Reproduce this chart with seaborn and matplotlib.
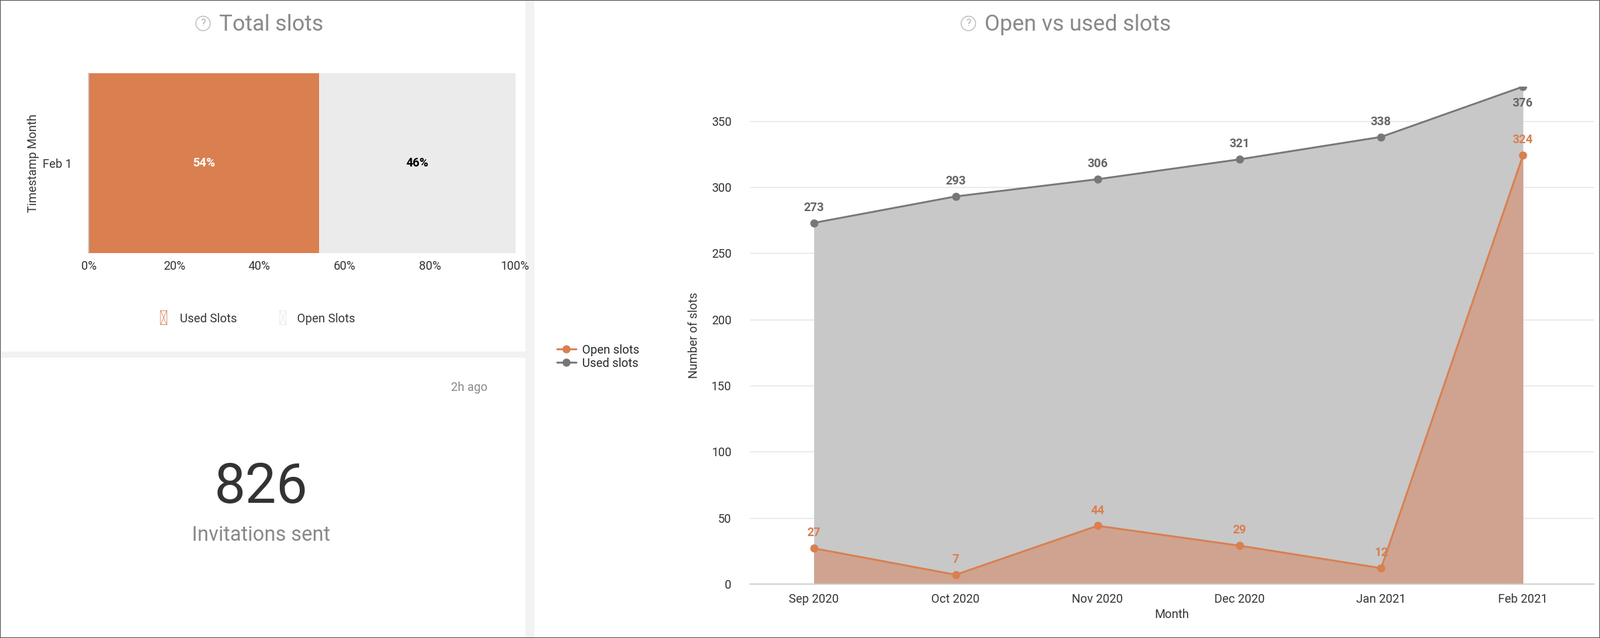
import matplotlib
matplotlib.use("Agg")
import matplotlib.pyplot as plt
import seaborn as sns
import pandas as pd
from matplotlib.patches import Rectangle

months = ["Sep 2020", "Oct 2020", "Nov 2020", "Dec 2020", "Jan 2021", "Feb 2021"]
open_slots = [27, 7, 44, 29, 12, 324]
used_slots = [273, 293, 306, 321, 338, 376]
bar_category = ["Feb 1"]
used_pct = [54]
open_pct = [46]
invitations = 826

ORANGE = "#d97f50"
GREY = "#777777"
sns.set_theme(style="white", font="Roboto")
W, H = 1568, 626
fig = plt.figure(figsize=(24.02, 9.58), dpi=100)
fig.patch.set_facecolor("white")

def fx(x): return x / W
def fy(y): return 1 - y / H

# card separators
fig.add_artist(Rectangle((fx(515), 0), fx(8), 1, transform=fig.transFigure, color="#f2f2f2", zorder=0))
fig.add_artist(Rectangle((0, fy(350)), fx(515), fx(0) + 5 / H, transform=fig.transFigure, color="#f2f2f2", zorder=0))
fig.add_artist(Rectangle((0, 0), 1, 1, transform=fig.transFigure, fill=False, ec="#555555", lw=1.5))

def title(x, y, s):
    fig.text(fx(x), fy(y), s, fontsize=24, color="#888888", ha="left", va="center")
    fig.text(fx(x - 16), fy(y - 1), "?", fontsize=11, color="#aaaaaa", ha="center", va="center",
             bbox=dict(boxstyle="circle,pad=0.25", fc="white", ec="#bbbbbb", lw=1))

title(215, 24, "Total slots")
title(965, 24, "Open vs used slots")

# --- stacked 100% bar ---
axb = fig.add_axes([fx(87), fy(248), fx(505 - 87), (248 - 72) / H])
dfb = pd.DataFrame({"cat": bar_category, "used": used_pct, "open": open_pct})
dfb["total"] = dfb["used"] + dfb["open"]
sns.barplot(data=dfb, x="total", y="cat", color="#ebebeb", width=1.0, ax=axb, orient="h")
sns.barplot(data=dfb, x="used", y="cat", color=ORANGE, width=1.0, ax=axb, orient="h", saturation=1)
for p in axb.patches:
    p.set_edgecolor("none")
axb.set_xlim(0, 100)
axb.set_ylim(0.5, -0.5)
axb.text(used_pct[0] / 2, 0, f"{used_pct[0]}%", color="white", fontsize=13, fontweight="bold", ha="center", va="center")
axb.text(used_pct[0] + open_pct[0] / 2, 0, f"{open_pct[0]}%", color="black", fontsize=13, fontweight="bold", ha="center", va="center")
axb.set_xticks([0, 20, 40, 60, 80, 100])
axb.set_xticklabels(["0%", "20%", "40%", "60%", "80%", "100%"], fontsize=13, color="#333333")
axb.set_ylabel("Timestamp Month", fontsize=13, color="#333333")
axb.set_xlabel("")
axb.tick_params(axis="y", labelsize=13, colors="#333333", length=0, pad=18)
axb.tick_params(axis="x", length=0, pad=8)
for s in ["top", "right", "bottom"]:
    axb.spines[s].set_visible(False)
axb.spines["left"].set_color("#cccccc")
axb.grid(axis="x", color="#e6e6e6")
axb.set_axisbelow(True)
# legend
fig.text(fx(160), fy(313), "●", color=ORANGE, fontsize=22, ha="center", va="center")
fig.text(fx(176), fy(313), "Used Slots", color="#333333", fontsize=13, va="center")
fig.text(fx(277), fy(313), "●", color="#e6e6e6", fontsize=22, ha="center", va="center")
fig.text(fx(291), fy(313), "Open Slots", color="#333333", fontsize=13, va="center")

# KPI
fig.text(fx(478), fy(380), "2h ago", color="#888888", fontsize=13, ha="right", va="center")
fig.text(fx(256), fy(478), f"{invitations}", color="#333333", fontsize=60, ha="center", va="center")
fig.text(fx(256), fy(525), "Invitations sent", color="#888888", fontsize=22, ha="center", va="center")

# --- line/area chart ---
ax = fig.add_axes([fx(735), fy(573), fx(1562 - 735), (573 - 85) / H])
x = list(range(len(months)))
df = pd.DataFrame({"Month": months, "x": x, "Open slots": open_slots, "Used slots": used_slots})
ax.fill_between(x, 0, used_slots, color="#c8c8c8", lw=0)
ax.fill_between(x, 0, open_slots, color="#cfa38f", lw=0)
sns.lineplot(data=df, x="x", y="Open slots", color=ORANGE, marker="o", markersize=8, mec=ORANGE, lw=2, ax=ax, label="Open slots")
sns.lineplot(data=df, x="x", y="Used slots", color=GREY, marker="o", markersize=8, mec=GREY, lw=2, ax=ax, label="Used slots")
for xi, v in zip(x, open_slots):
    ax.text(xi, v + 7, str(v), color=ORANGE, fontsize=13, fontweight="bold", ha="center", va="bottom")
for i, (xi, v) in enumerate(zip(x, used_slots)):
    if i == len(x) - 1:
        ax.text(xi, v - 8, str(v), color="#666666", fontsize=13, fontweight="bold", ha="center", va="top")
    else:
        ax.text(xi, v + 7, str(v), color="#666666", fontsize=13, fontweight="bold", ha="center", va="bottom")
ax.set_xlim(-0.45, 5.5)
ax.set_ylim(0, 376)
ax.set_xticks(x)
ax.set_xticklabels(months, fontsize=13, color="#333333")
ax.set_yticks([0, 50, 100, 150, 200, 250, 300, 350])
ax.tick_params(axis="y", labelsize=13, colors="#333333", length=0, pad=20)
ax.tick_params(axis="x", length=0, pad=10)
ax.set_xlabel("Month", fontsize=13, color="#333333", labelpad=4)
ax.set_ylabel("Number of slots", fontsize=13, color="#333333", labelpad=12)
ax.grid(axis="y", color="#e3e3e3")
ax.set_axisbelow(True)
for s in ["top", "right", "left"]:
    ax.spines[s].set_visible(False)
ax.spines["bottom"].set_color("#cccccc")
ax.legend(loc="center left", bbox_to_anchor=(fx(535), fy(350)), bbox_transform=fig.transFigure,
          frameon=False, fontsize=13, handlelength=1.6, labelspacing=0.1, handletextpad=0.5)

fig.savefig("out.png", dpi=100, facecolor="white")
